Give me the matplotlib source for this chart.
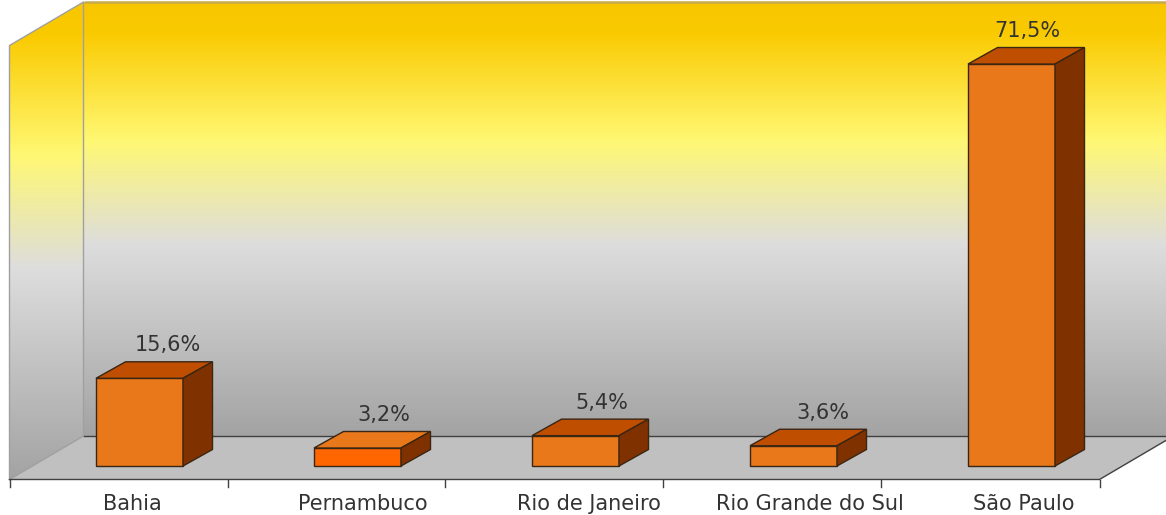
import numpy as np
import matplotlib
matplotlib.use('Agg')
import matplotlib.pyplot as plt
from matplotlib.patches import Polygon, Rectangle

# ---------------- data ----------------
categories = ['Bahia', 'Pernambuco', 'Rio de Janeiro', 'Rio Grande do Sul', 'São Paulo']
values = [15.6, 3.2, 5.4, 3.6, 71.5]
value_labels = ['15,6%', '3,2%', '5,4%', '3,6%', '71,5%']

# ---------------- layout / style ----------------
W, H = 1166, 515
PX_CAT = 218.0      # pixels per category
PX_VAL = 5.622      # pixels per value unit
X0_PX = 139.5       # pixel x of first category centre (bar front plane)
Y0_PX = 49.0        # pixel y (from bottom) of value 0 (bar front plane)
WALL_TOP = 77.2

BAR_W = 87.0 / PX_CAT
BAR_D = (29.5 / PX_CAT, 16.5 / PX_VAL)     # bar depth offset
BACK = (53.0 / PX_CAT, 30.0 / PX_VAL)      # back wall offset
FRONT = (-21.0 / PX_CAT, -13.5 / PX_VAL)   # floor front offset

front_colors = ['#E8781A', '#FF6600', '#E8781A', '#E8781A', '#E8781A']
top_colors = ['#C04E00', '#E8781A', '#C04E00', '#C04E00', '#C04E00']
side_color = '#7F3200'
edge_color = '#3a2614'
text_color = '#333333'
cat_label_dx = [-7, 5, 13, 16, 12]       # pixel nudges of category labels
val_label_dx = [28, 26, 26, 29, 16]      # pixel nudges of value labels

grad_pos = [0.0, 0.07, 0.32, 0.56, 1.0]
grad_col = np.array([(248, 198, 0), (250, 202, 0), (255, 248, 115),
                     (221, 221, 221), (163, 163, 163)], dtype=float)

plt.rcParams['font.family'] = ['DejaVu Sans']

fig = plt.figure(figsize=(W / 100, H / 100), dpi=100)
fig.patch.set_facecolor('white')
ax = fig.add_axes([0, 0, 1, 1])
xlim = (-X0_PX / PX_CAT, (W - X0_PX) / PX_CAT)
ylim = (-Y0_PX / PX_VAL, (H - Y0_PX) / PX_VAL)
ax.set_xlim(*xlim)
ax.set_ylim(*ylim)
ax.axis('off')

n = len(categories)
xl, xr = -0.5, n - 0.5


def gradient_fill(verts, zorder):
    poly = Polygon(verts, closed=True, facecolor='none', edgecolor='none', zorder=zorder)
    ax.add_patch(poly)
    xs = [v[0] for v in verts]
    ys = [v[1] for v in verts]
    t = np.linspace(0, 1, 400)
    rgb = np.stack([np.interp(t, grad_pos, grad_col[:, k]) for k in range(3)], axis=-1) / 255.0
    img = rgb[:, None, :]
    im = ax.imshow(img, extent=(min(xs), max(xs), min(ys), max(ys)), origin='upper',
                   aspect='auto', zorder=zorder, interpolation='bilinear')
    im.set_clip_path(poly)


# back wall
back_wall = [(xl + BACK[0], BACK[1]), (xr + BACK[0] + 1, BACK[1]),
             (xr + BACK[0] + 1, WALL_TOP + BACK[1]), (xl + BACK[0], WALL_TOP + BACK[1])]
gradient_fill(back_wall, 1)
# left wall
left_wall = [(xl + FRONT[0], FRONT[1]), (xl + BACK[0], BACK[1]),
             (xl + BACK[0], WALL_TOP + BACK[1]), (xl + FRONT[0], WALL_TOP + FRONT[1])]
gradient_fill(left_wall, 1)

# floor
floor = [(xl + FRONT[0], FRONT[1]), (xr + FRONT[0], FRONT[1]),
         (xr + BACK[0], BACK[1]), (xl + BACK[0], BACK[1])]
ax.add_patch(Polygon(floor, closed=True, facecolor='#C0C0C0', edgecolor='none', zorder=2))

# wall edges
ax.plot([xl + BACK[0], xr + BACK[0] + 1], [WALL_TOP + BACK[1]] * 2, color='#C8AA50', lw=1.8, zorder=3,
        solid_capstyle='butt')
lw_pts = [(xl + FRONT[0], FRONT[1]), (xl + FRONT[0], WALL_TOP + FRONT[1]),
          (xl + BACK[0], WALL_TOP + BACK[1]), (xl + BACK[0], BACK[1]), (xl + FRONT[0], FRONT[1])]
ax.plot([p[0] for p in lw_pts], [p[1] for p in lw_pts], color='#A0A0A0', lw=1.0, zorder=3)
ax.plot([xl + BACK[0], xr + BACK[0] + 1], [BACK[1]] * 2, color='#404040', lw=1.0, zorder=3)
ax.plot([xl + FRONT[0], xr + FRONT[0], xr + BACK[0]], [FRONT[1], FRONT[1], BACK[1]],
        color='#404040', lw=1.0, zorder=3)
# ticks
for k in range(n + 1):
    x = k - 0.5 + FRONT[0]
    ax.plot([x, x], [FRONT[1], FRONT[1] - 7 / PX_VAL], color='#404040', lw=1.0, zorder=3)

# bars
for i, v in enumerate(values):
    x0, x1 = i - BAR_W / 2, i + BAR_W / 2
    dx, dy = BAR_D
    ax.add_patch(Rectangle((x0, 0), BAR_W, v, facecolor=front_colors[i], edgecolor=edge_color,
                           lw=1.0, zorder=5))
    ax.add_patch(Polygon([(x0, v), (x1, v), (x1 + dx, v + dy), (x0 + dx, v + dy)], closed=True,
                         facecolor=top_colors[i], edgecolor=edge_color, lw=1.0, zorder=5))
    ax.add_patch(Polygon([(x1, 0), (x1 + dx, dy), (x1 + dx, v + dy), (x1, v)], closed=True,
                         facecolor=side_color, edgecolor=edge_color, lw=1.0, zorder=5))
    ax.annotate(value_labels[i], xy=(i, v), xytext=(val_label_dx[i], 33), textcoords='offset pixels',
                ha='center', va='center', fontsize=15, color=text_color, zorder=6)
    ax.annotate(categories[i], xy=(i, 0), xytext=(cat_label_dx[i], -44), textcoords='offset pixels',
                ha='center', va='baseline', fontsize=15, color=text_color, zorder=6)

ax.set_xlim(*xlim)
ax.set_ylim(*ylim)
fig.savefig('out.png', dpi=100, facecolor='white')
